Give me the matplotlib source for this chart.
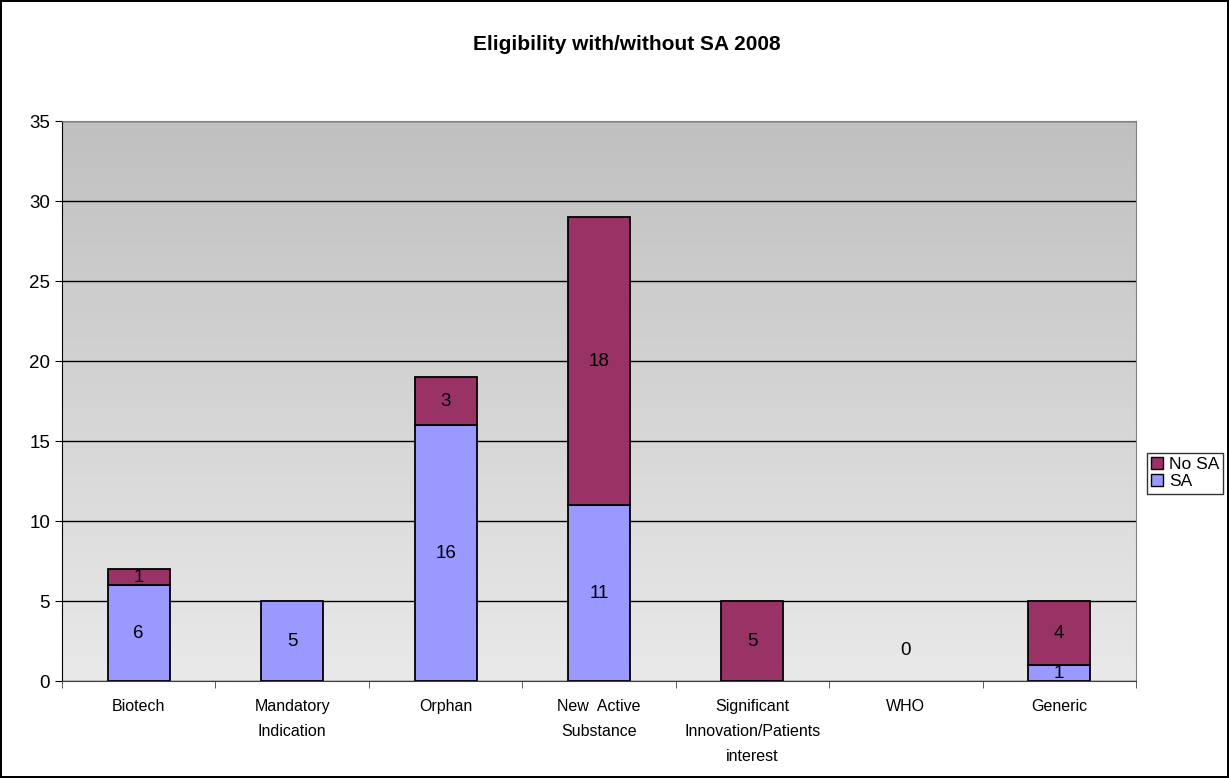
import numpy as np
import matplotlib.pyplot as plt
from matplotlib.patches import Patch
from matplotlib.colors import LinearSegmentedColormap

plt.rcParams['font.family'] = ['Liberation Sans', 'DejaVu Sans']

categories = ['Biotech', 'Mandatory\nIndication', 'Orphan', 'New  Active\nSubstance',
              'Significant\nInnovation/Patients\ninterest', 'WHO', 'Generic']
sa = [6, 5, 16, 11, 0, 0, 1]
no_sa = [1, 0, 3, 18, 5, 0, 4]

c_sa = '#9999FF'
c_nosa = '#993366'

fig = plt.figure(figsize=(12.29, 7.78), dpi=100)
fig.patch.set_edgecolor('black')
fig.patch.set_linewidth(1.5)
ax = fig.add_axes([62 / 1229, 97 / 778, 1074 / 1229, 560 / 778])

# gradient background
grad = np.linspace(0, 1, 256).reshape(-1, 1)
cmap = LinearSegmentedColormap.from_list('g', ['#e9e9e9', '#c0c0c0'])
ax.imshow(grad, extent=[-0.5, 6.5, 0, 35], aspect='auto', origin='lower', cmap=cmap, zorder=0)

x = np.arange(len(categories))
w = 0.405
lw_sa = [1.3 if v > 0 else 0 for v in sa]
lw_no = [1.3 if v > 0 else 0 for v in no_sa]
ax.bar(x, sa, w, color=c_sa, edgecolor='black', linewidth=lw_sa, zorder=3, label='SA')
ax.bar(x, no_sa, w, bottom=sa, color=c_nosa, edgecolor='black', linewidth=lw_no, zorder=3, label='No SA')

fs = 13.5
for i in range(len(categories)):
    if sa[i] > 0:
        ax.text(x[i], sa[i] / 2, str(sa[i]), ha='center', va='center', fontsize=fs, zorder=4)
    if no_sa[i] > 0:
        ax.text(x[i], sa[i] + no_sa[i] / 2, str(no_sa[i]), ha='center', va='center', fontsize=fs, zorder=4)
    if sa[i] == 0 and no_sa[i] == 0:
        ax.text(x[i], 1.9, '0', ha='center', va='center', fontsize=fs, zorder=4)

ax.set_xlim(-0.5, 6.5)
ax.set_ylim(0, 35)
ax.set_yticks(range(0, 36, 5))
ax.yaxis.grid(True, color='black', linewidth=1)
ax.set_axisbelow(False)
ax.set_xticks(x)
ax.set_xticklabels(categories, fontsize=11.5, linespacing=1.85)
ax.set_xticks(np.arange(-0.5, 7, 1), minor=True)
ax.tick_params(axis='x', which='major', length=0, pad=13)
ax.tick_params(axis='x', which='minor', length=5, color='#404040')
ax.tick_params(axis='y', labelsize=13.5, length=5)
for s in ['top', 'right']:
    ax.spines[s].set_color('#808080')
ax.spines['bottom'].set_color('#404040')
ax.spines['left'].set_color('black')
for sp in ax.spines.values():
    sp.set_zorder(5)

fig.text(627 / 1229, 1 - 45 / 778, 'Eligibility with/without SA 2008', ha='center', va='center',
         fontsize=15, fontweight='bold')

handles = [Patch(facecolor=c_nosa, edgecolor='black'), Patch(facecolor=c_sa, edgecolor='black')]
fig.legend(handles, ['No SA', 'SA'], loc='upper left', bbox_to_anchor=(1147 / 1229, 1 - 453 / 778),
           frameon=True, fancybox=False, edgecolor='black', fontsize=12.5, handlelength=0.7,
           handleheight=0.7, handletextpad=0.3, borderpad=0.25, labelspacing=0.1,
           borderaxespad=0)

fig.savefig('out.png', dpi=100)
